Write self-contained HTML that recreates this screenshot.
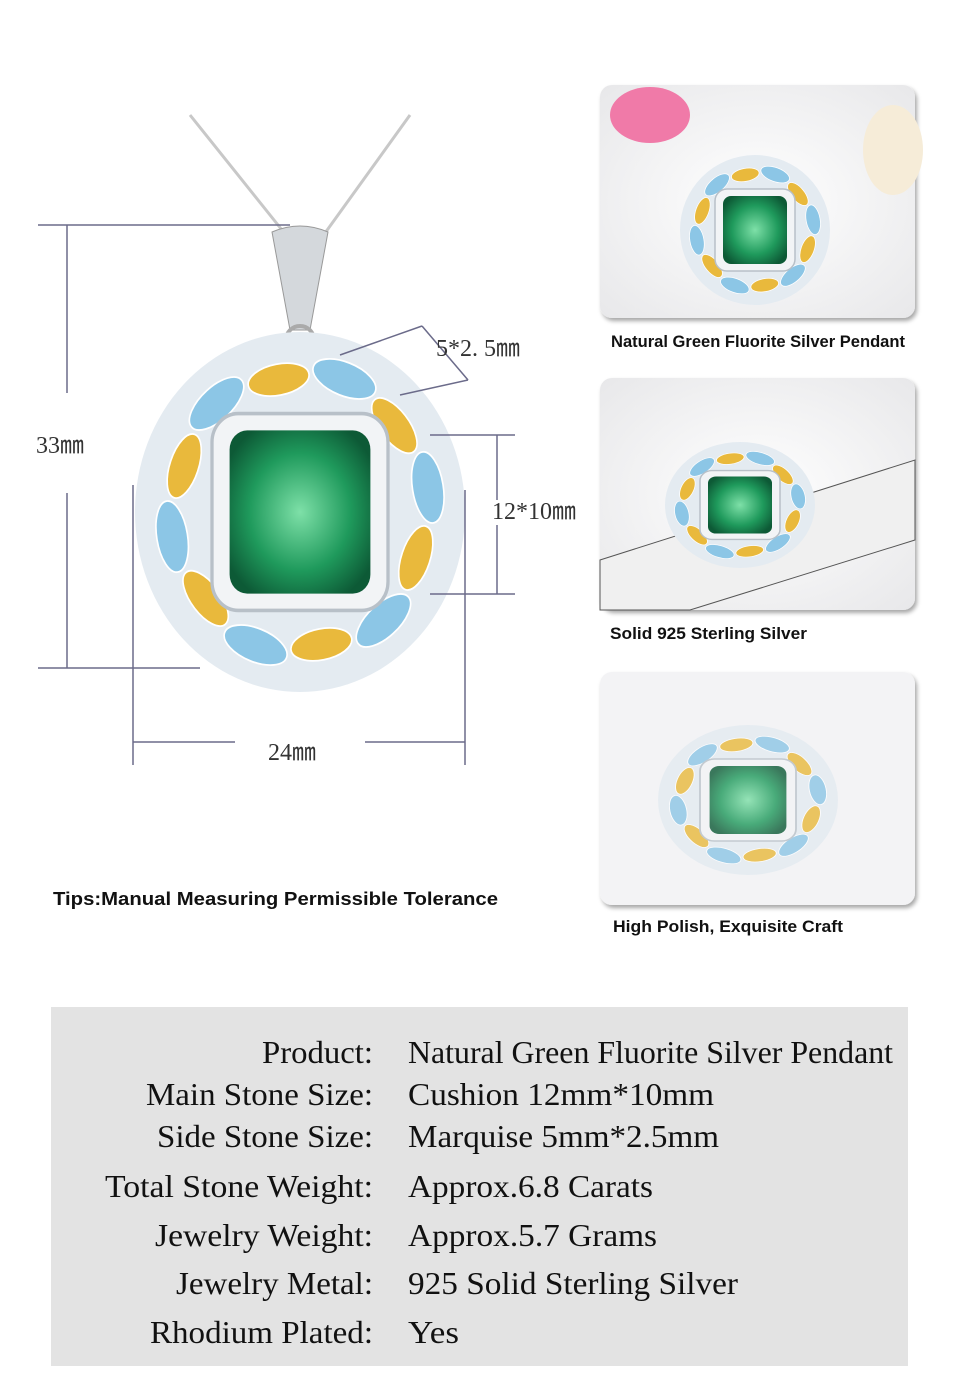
<!DOCTYPE html>
<html><head><meta charset="utf-8"><style>
html,body{margin:0;padding:0;background:#fff;}
svg{display:block}
.cap{font-family:"Liberation Sans",sans-serif;font-weight:bold;font-size:16.5px;fill:#111}
.tb{font-family:"Liberation Serif",serif;font-size:32px;fill:#111}
.dim{font-family:"Liberation Serif",serif;font-size:24px;fill:#333}
</style></head><body>
<svg width="960" height="1390" viewBox="0 0 960 1390" xmlns="http://www.w3.org/2000/svg">
<defs>
<radialGradient id="gr" cx="50%" cy="50%" r="60%"><stop offset="0" stop-color="#7ee0a8"/><stop offset="0.6" stop-color="#1f9a5c"/><stop offset="1" stop-color="#0d5a36"/></radialGradient>
<radialGradient id="ph" cx="50%" cy="50%" r="70%"><stop offset="0" stop-color="#ffffff"/><stop offset="1" stop-color="#e8e8ea"/></radialGradient>
<filter id="sh" x="-5%" y="-5%" width="115%" height="115%"><feDropShadow dx="2" dy="3" stdDeviation="2" flood-color="#000" flood-opacity="0.35"/></filter>
<g id="pend">
 <circle r="150" fill="#e4ebf1"/>
 <g fill="#8cc6e6" stroke="#fff" stroke-width="1.5">
  <ellipse rx="30" ry="14" transform="rotate(20) translate(0,-118)"/>
  <ellipse rx="30" ry="14" transform="rotate(80) translate(0,-118)"/>
  <ellipse rx="30" ry="14" transform="rotate(140) translate(0,-118)"/>
  <ellipse rx="30" ry="14" transform="rotate(200) translate(0,-118)"/>
  <ellipse rx="30" ry="14" transform="rotate(260) translate(0,-118)"/>
  <ellipse rx="30" ry="14" transform="rotate(320) translate(0,-118)"/>
 </g>
 <g fill="#e9b93c" stroke="#fff" stroke-width="1.5">
  <ellipse rx="28" ry="13" transform="rotate(50) translate(0,-112)"/>
  <ellipse rx="28" ry="13" transform="rotate(110) translate(0,-112)"/>
  <ellipse rx="28" ry="13" transform="rotate(170) translate(0,-112)"/>
  <ellipse rx="28" ry="13" transform="rotate(230) translate(0,-112)"/>
  <ellipse rx="28" ry="13" transform="rotate(290) translate(0,-112)"/>
  <ellipse rx="28" ry="13" transform="rotate(350) translate(0,-112)"/>
 </g>
 <rect x="-80" y="-82" width="160" height="164" rx="24" fill="#f2f4f6" stroke="#b8c0c8" stroke-width="3"/>
 <rect x="-64" y="-68" width="128" height="136" rx="16" fill="url(#gr)"/>
</g>
</defs>
<path d="M190 115 L290 240 M410 115 L320 240" stroke="#c8c8c8" stroke-width="3" fill="none"/>
<path d="M272 232 Q300 220 328 232 L310 330 L290 330 Z" fill="#d4d8dc" stroke="#999"/>
<circle cx="300" cy="340" r="14" fill="none" stroke="#aaa" stroke-width="4"/>
<use href="#pend" transform="translate(300,512) scale(1.1,1.2)"/>
<!-- left diagram -->
<g stroke="#6b6b8a" stroke-width="1.5" fill="none">
 <line x1="38" y1="225" x2="290" y2="225"/>
 <line x1="67" y1="225" x2="67" y2="393"/>
 <line x1="67" y1="493" x2="67" y2="668"/>
 <line x1="38" y1="668" x2="200" y2="668"/>
 <line x1="133" y1="485" x2="133" y2="765"/>
 <line x1="465" y1="490" x2="465" y2="765"/>
 <line x1="133" y1="742" x2="235" y2="742"/>
 <line x1="365" y1="742" x2="465" y2="742"/>
 <line x1="430" y1="435" x2="515" y2="435"/>
 <line x1="430" y1="594" x2="515" y2="594"/>
 <line x1="497" y1="435" x2="497" y2="500"/>
 <line x1="497" y1="525" x2="497" y2="594"/>
 <line x1="340" y1="355" x2="422" y2="326"/>
 <line x1="400" y1="395" x2="468" y2="380"/>
 <line x1="422" y1="326" x2="468" y2="380"/>
</g>
<text class="dim" x="36" y="453">33㎜</text>
<text class="dim" x="268" y="760">24㎜</text>
<text class="dim" x="492" y="519">12*10㎜</text>
<text class="dim" x="436" y="356">5*2. 5㎜</text>
<text class="cap" x="53" y="905" textLength="445" lengthAdjust="spacingAndGlyphs" style="font-size:18px">Tips:Manual Measuring Permissible Tolerance</text>
<!-- right photos -->
<g filter="url(#sh)">
 <rect x="600" y="85" width="315" height="233" rx="12" fill="url(#ph)"/>
 <rect x="600" y="378" width="315" height="232" rx="12" fill="url(#ph)"/>
 <rect x="600" y="672" width="315" height="233" rx="12" fill="#f3f3f5"/>
</g>
<ellipse cx="650" cy="115" rx="40" ry="28" fill="#f07aa8"/>
<ellipse cx="893" cy="150" rx="30" ry="45" fill="#f6ecd8"/>
<use href="#pend" transform="translate(755,230) scale(0.5)"/>
<path d="M600 560 L915 460 L915 540 L690 610 L600 610 Z" fill="#f0f0f0" stroke="#555"/>
<use href="#pend" transform="translate(740,505) scale(0.5,0.42)"/>
<use href="#pend" transform="translate(748,800) scale(0.6,0.5)" opacity="0.8"/>
<text class="cap" x="611" y="347" textLength="294" lengthAdjust="spacingAndGlyphs">Natural Green Fluorite Silver Pendant</text>
<text class="cap" x="610" y="639" textLength="197" lengthAdjust="spacingAndGlyphs">Solid 925 Sterling Silver</text>
<text class="cap" x="613" y="932" textLength="230" lengthAdjust="spacingAndGlyphs">High Polish, Exquisite Craft</text>
<!-- table -->
<rect x="51" y="1007" width="857" height="359" fill="#e3e3e3"/>
<g class="tb">
 <text x="373" y="1063" text-anchor="end" textLength="111" lengthAdjust="spacingAndGlyphs">Product:</text>
 <text x="373" y="1105" text-anchor="end" textLength="227" lengthAdjust="spacingAndGlyphs">Main Stone Size:</text>
 <text x="373" y="1147" text-anchor="end" textLength="216" lengthAdjust="spacingAndGlyphs">Side Stone Size:</text>
 <text x="373" y="1197" text-anchor="end" textLength="268" lengthAdjust="spacingAndGlyphs">Total Stone Weight:</text>
 <text x="373" y="1246" text-anchor="end" textLength="218" lengthAdjust="spacingAndGlyphs">Jewelry Weight:</text>
 <text x="373" y="1294" text-anchor="end" textLength="197" lengthAdjust="spacingAndGlyphs">Jewelry Metal:</text>
 <text x="373" y="1343" text-anchor="end" textLength="223" lengthAdjust="spacingAndGlyphs">Rhodium Plated:</text>
 <text x="408" y="1063" textLength="485" lengthAdjust="spacingAndGlyphs">Natural Green Fluorite Silver Pendant</text>
 <text x="408" y="1105" textLength="306" lengthAdjust="spacingAndGlyphs">Cushion 12mm*10mm</text>
 <text x="408" y="1147" textLength="311" lengthAdjust="spacingAndGlyphs">Marquise 5mm*2.5mm</text>
 <text x="408" y="1197" textLength="245" lengthAdjust="spacingAndGlyphs">Approx.6.8 Carats</text>
 <text x="408" y="1246" textLength="249" lengthAdjust="spacingAndGlyphs">Approx.5.7 Grams</text>
 <text x="408" y="1294" textLength="330" lengthAdjust="spacingAndGlyphs">925 Solid Sterling Silver</text>
 <text x="408" y="1343" textLength="51" lengthAdjust="spacingAndGlyphs">Yes</text>
</g>
</svg>
</body></html>
